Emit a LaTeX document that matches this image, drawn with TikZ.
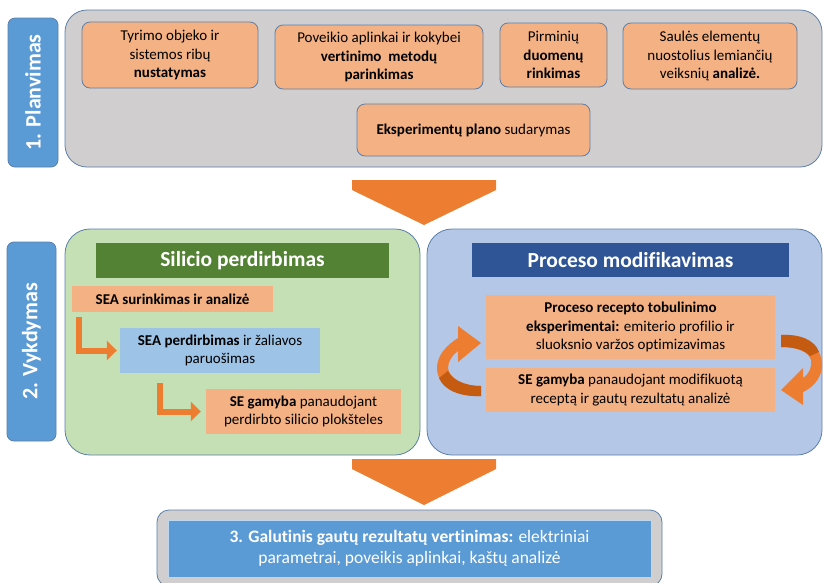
\documentclass[tikz,border=0pt]{standalone}
\usepackage{fontspec}
\setmainfont{Carlito}[Ligatures=NoCommon]
\usetikzlibrary{arrows.meta, positioning, calc}

\definecolor{edgeblue}{HTML}{5B7FAA}
\definecolor{panelgray}{HTML}{D0CECE}
\definecolor{taskorange}{HTML}{F4B183}
\definecolor{sideblue}{HTML}{5B9BD5}
\definecolor{panelgreen}{HTML}{C5E0B4}
\definecolor{panelblue}{HTML}{B4C7E7}
\definecolor{headgreen}{HTML}{548235}
\definecolor{headblue}{HTML}{2F5597}
\definecolor{stepblue}{HTML}{9DC3E6}
\definecolor{floworange}{HTML}{ED7D31}
\definecolor{flowdark}{HTML}{C55A11}

\begin{document}
\begin{tikzpicture}[
    x=1pt, y=-1pt,
    panel/.style={
        rectangle,
        draw=edgeblue,
        line width=0.8pt,
        rounded corners=22pt,
        inner sep=0pt
    },
    sidelabel/.style={
        rectangle,
        draw=edgeblue,
        line width=0.8pt,
        fill=sideblue,
        rounded corners=7pt,
        rotate=90,
        text=white,
        inner sep=0pt,
        minimum height=50pt,
        font=\fontsize{22}{26}\selectfont\bfseries
    },
    taskbox/.style={
        rectangle,
        draw=edgeblue,
        line width=0.8pt,
        fill=taskorange,
        rounded corners=8pt,
        align=center,
        inner sep=0pt,
        font=\fontsize{15}{18.5}\selectfont
    },
    stepbox/.style={
        rectangle,
        fill=taskorange,
        align=center,
        inner sep=0pt,
        font=\fontsize{15}{18.5}\selectfont
    },
    headbox/.style={
        rectangle,
        inner sep=0pt,
        text=white,
        font=\fontsize{21.5}{25}\selectfont\bfseries
    },
    elbow/.style={
        -{Triangle[length=10pt, width=19pt]},
        line width=6pt,
        draw=floworange
    },
    bigarrow/.style={
        fill=floworange
    }
]
    \useasboundingbox (0,0) rectangle (823,582);

    % --- 1. PLANVIMAS ---
    \node[sidelabel, minimum width=149pt] (plan_side) at (33, 92.5) {1. Planvimas};
    \node[panel, fill=panelgray, minimum width=757pt, minimum height=157pt] (plan_panel) at (443.5, 88.5) {};

    \node[taskbox, minimum width=176pt, minimum height=66pt] (scope_box) at (170, 55) {Tyrimo objeko ir\\sistemos ribų\\\textbf{nustatymas}};
    \node[taskbox, minimum width=208pt, minimum height=64pt] (method_box) at (379, 57) {Poveikio aplinkai ir kokybei\\\textbf{vertinimo\ \ metodų}\\\textbf{parinkimas}};
    \node[taskbox, minimum width=107pt, minimum height=64pt] (data_box) at (553.5, 55) {Pirminių\\\textbf{duomenų}\\\textbf{rinkimas}};
    \node[taskbox, minimum width=174pt, minimum height=66pt] (loss_box) at (710, 56) {Saulės elementų\\nuostolius lemiančių\\veiksnių \textbf{analizė.}};
    \node[taskbox, minimum width=233pt, minimum height=52pt] (expplan_box) at (473.5, 130) {\textbf{Eksperimentų plano} sudarymas};

    % big arrow from planning to execution
    \coordinate (flow_a) at (424, 180);
    \fill[bigarrow] (flow_a) ++(-72,0) -- ++(144,0) -- ++(0,10) -- ++(-72,35) -- ++(-72,-35) -- cycle;

    % --- 2. VYKDYMAS ---
    \node[sidelabel, minimum width=199pt, minimum height=49pt] (run_side) at (31.5, 341.5) {2. Vykdymas};
    \node[panel, fill=panelgreen, rounded corners=25pt, minimum width=355pt, minimum height=226pt] (si_panel) at (242.5, 342) {};
    \node[panel, fill=panelblue, rounded corners=25pt, minimum width=395pt, minimum height=226pt] (mod_panel) at (624.5, 342) {};

    % Silicon recycling track
    \node[headbox, fill=headgreen, minimum width=293pt, minimum height=35pt] (si_head) at (242.5, 260.5) {Silicio perdirbimas};
    \node[stepbox, minimum width=201pt, minimum height=26pt, font=\fontsize{15}{18.5}\selectfont\bfseries] (sea_collect) at (172.5, 299) {SEA surinkimas ir analizė};
    \node[stepbox, fill=stepblue, minimum width=200pt, minimum height=45pt] (sea_recycle) at (220, 350.5) {\textbf{SEA perdirbimas} ir žaliavos\\paruošimas};
    \node[stepbox, minimum width=195pt, minimum height=45pt] (se_make) at (303.5, 411.5) {\textbf{SE gamyba} panaudojant\\perdirbto silicio plokšteles};

    \draw[elbow] ([xshift=7pt, yshift=-5pt]sea_collect.south west) |- ([xshift=-3pt]sea_recycle.west);
    \draw[elbow] ([xshift=40pt, yshift=-10pt]sea_recycle.south west) |- ([xshift=-5pt]se_make.west);

    % Process modification track
    \node[headbox, fill=headblue, minimum width=317pt, minimum height=34pt] (mod_head) at (630.5, 260) {Proceso modifikavimas};
    \node[stepbox, minimum width=289pt, minimum height=64pt] (recipe_box) at (630.5, 327) {\textbf{Proceso recepto tobulinimo}\\\textbf{eksperimentai:} emiterio profilio ir\\sluoksnio varžos optimizavimas};
    \node[stepbox, minimum width=289pt, minimum height=44pt] (se_mod) at (630.5, 390) {\textbf{SE gamyba} panaudojant modifikuotą\\receptą ir gautų rezultatų analizė};

    % curved loop arrows
    \fill[floworange] (481,396) .. controls (455,397) and (437,385) .. (437,368)
        .. controls (437,355) and (447,345) .. (458,338) -- (458,326) -- (481,343) -- (458,362) -- (458,351)
        .. controls (452,355) and (448,362) .. (448,368) .. controls (449,378) and (463,386) .. (481,386) -- cycle;
    \fill[flowdark] (481,396) .. controls (460,397) and (444,390) .. (439,378) -- (448,371)
        .. controls (452,380) and (465,386) .. (481,386) -- cycle;
    \fill[floworange] (781,335) .. controls (808,333) and (824,350) .. (822,368)
        .. controls (820,380) and (812,388) .. (803,392) -- (803,405) -- (781,390) -- (803,368) -- (803,378)
        .. controls (809,374) and (812,368) .. (811,360) .. controls (809,352) and (797,347) .. (781,347) -- cycle;
    \fill[flowdark] (781,335) .. controls (800,334) and (815,340) .. (819,352) -- (810,356)
        .. controls (805,350) and (795,347) .. (781,347) -- cycle;

    % big arrow from execution to results
    \coordinate (flow_b) at (424, 459);
    \fill[bigarrow] (flow_b) ++(-72,0) -- ++(144,0) -- ++(0,10) -- ++(-72,36) -- ++(-72,-36) -- cycle;

    % --- 3. GALUTINIS VERTINIMAS ---
    \node[panel, fill=panelgray, rounded corners=12pt, minimum width=505pt, minimum height=76pt] (final_panel) at (409.5, 548) {};
    \node[rectangle, draw=white!60!sideblue, fill=sideblue, text=white, align=center, inner sep=0pt,
          minimum width=483pt, minimum height=57pt, font=\fontsize{17.5}{21}\selectfont] (final_box) at (409.5, 548.5)
          {\textbf{3. Galutinis gautų rezultatų vertinimas:} elektriniai\\parametrai, poveikis aplinkai, kaštų analizė};

\end{tikzpicture}
\end{document}
